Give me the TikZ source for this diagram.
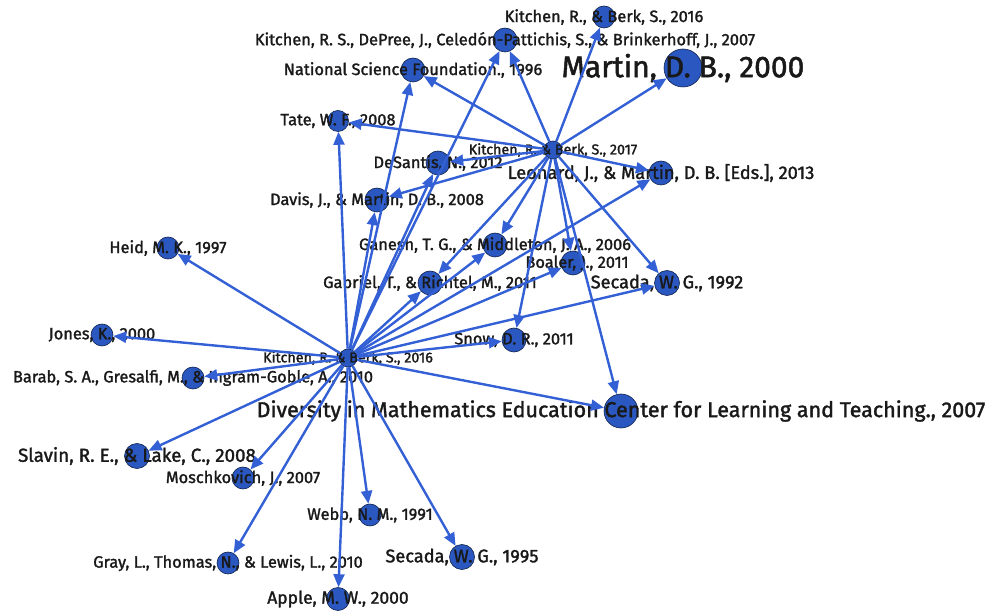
\documentclass[tikz,border=0pt]{standalone}
\usepackage{fontspec}
\setmainfont{Fira Sans}[UprightFeatures={FakeBold=1.6}]
\usepackage{xcolor}
\usepackage{tikz}
\usetikzlibrary{arrows.meta}
\definecolor{nodeblue}{RGB}{42,88,192}
\definecolor{edgeblue}{RGB}{52,96,214}
\tikzset{
  vtx/.style={circle, fill=nodeblue, draw=black!60!nodeblue, line width=0.6pt, inner sep=0pt},
  cite/.style={line width=2.4pt, draw=edgeblue, -{Triangle[length=13pt,width=11pt]}},
  lbl/.style={font=\fontsize{16.4}{17}\selectfont, inner sep=0pt, text=black!90},
  lblsm/.style={font=\fontsize{14.3}{15}\selectfont, inner sep=0pt, text=black!90},
  lblmd/.style={font=\fontsize{18.2}{19}\selectfont, inner sep=0pt, text=black!90},
  lblbig/.style={font=\fontsize{21.5}{22}\selectfont, inner sep=0pt, text=black!90},
  lblhuge/.style={font=\fontsize{30}{31}\selectfont, inner sep=0pt, text=black!90},
}

\begin{document}
\begin{tikzpicture}[x=1pt, y=-1pt]
\useasboundingbox (0,0) rectangle (989,612);
% cited works and the two citing hubs
\node[vtx, minimum size=22pt] (kb16t) at (604,17) {};
\node[vtx, minimum size=24pt] (depree) at (505,40) {};
\node[vtx, minimum size=24pt] (nsf) at (413,70) {};
\node[vtx, minimum size=38pt] (martin) at (683,68) {};
\node[vtx, minimum size=21pt] (tate) at (338,121) {};
\node[vtx, minimum size=24pt] (desantis) at (438,163) {};
\node[vtx, minimum size=24pt] (davis) at (377,200) {};
\node[vtx, minimum size=24pt] (leonard) at (661,173) {};
\node[vtx, minimum size=18pt] (kb17) at (553,150) {};
\node[vtx, minimum size=24pt] (ganesh) at (495,245) {};
\node[vtx, minimum size=24pt] (boaler) at (573,263) {};
\node[vtx, minimum size=24pt] (gabriel) at (430,283) {};
\node[vtx, minimum size=25pt] (secada92) at (667,283) {};
\node[vtx, minimum size=22pt] (heid) at (168,248) {};
\node[vtx, minimum size=22pt] (jones) at (102,335) {};
\node[vtx, minimum size=24pt] (snow) at (514,340) {};
\node[vtx, minimum size=18pt] (kb16) at (348,358) {};
\node[vtx, minimum size=22pt] (barab) at (193,378) {};
\node[vtx, minimum size=34pt] (diversity) at (621,411) {};
\node[vtx, minimum size=25pt] (slavin) at (137,456) {};
\node[vtx, minimum size=22pt] (moschk) at (243,478) {};
\node[vtx, minimum size=22pt] (webb) at (370,515) {};
\node[vtx, minimum size=22pt] (gray) at (228,563) {};
\node[vtx, minimum size=25pt] (secada95) at (462,557) {};
\node[vtx, minimum size=23pt] (apple) at (338,599) {};
% labels
\node[lbl] at (kb16t) {Kitchen, R., \& Berk, S., 2016};
\node[lbl] at (depree) {Kitchen, R. S., DePree, J., Celedón-Pattichis, S., \& Brinkerhoff, J., 2007};
\node[lbl] at (nsf) {National Science Foundation., 1996};
\node[lblhuge] at (martin) {Martin, D. B., 2000};
\node[lbl] at (tate) {Tate, W. F., 2008};
\node[lbl] at (desantis) {DeSantis, N., 2012};
\node[lbl] at (davis) {Davis, J., \& Martin, D. B., 2008};
\node[lblmd] at (leonard) {Leonard, J., \& Martin, D. B. [Eds.], 2013};
\node[lblsm] at (kb17) {Kitchen, R. \& Berk, S., 2017};
\node[lbl] at (ganesh) {Ganesh, T. G., \& Middleton, J. A., 2006};
\node[lbl] at (577,263) {Boaler, J., 2011};
\node[lbl] at (gabriel) {Gabriel, T., \& Richtel, M., 2011};
\node[lblmd] at (secada92) {Secada, W. G., 1992};
\node[lbl] at (heid) {Heid, M. K., 1997};
\node[lbl] at (jones) {Jones, K., 2000};
\node[lbl] at (snow) {Snow, D. R., 2011};
\node[lblsm] at (kb16) {Kitchen, R. \& Berk, S., 2016};
\node[lbl] at (barab) {Barab, S. A., Gresalfi, M., \& Ingram-Goble, A., 2010};
\node[lblbig] at (diversity) {Diversity in Mathematics Education Center for Learning and Teaching., 2007};
\node[font=\fontsize{18.8}{19}\selectfont, inner sep=0pt, text=black!90] at (slavin) {Slavin, R. E., \& Lake, C., 2008};
\node[lbl] at (moschk) {Moschkovich, J., 2007};
\node[lbl] at (webb) {Webb, N. M., 1991};
\node[lbl] at (gray) {Gray, L., Thomas, N., \& Lewis, L., 2010};
\node[lblmd] at (secada95) {Secada, W. G., 1995};
\node[font=\fontsize{17.5}{18}\selectfont, inner sep=0pt, text=black!90] at (apple) {Apple, M. W., 2000};
% citations from Kitchen & Berk 2016
\draw[cite] (kb16) -- (heid);
\draw[cite] (kb16) -- (jones);
\draw[cite] (kb16) -- (barab);
\draw[cite] (kb16) -- (slavin);
\draw[cite] (kb16) -- (moschk);
\draw[cite] (kb16) -- (gray);
\draw[cite] (kb16) -- (apple);
\draw[cite] (kb16) -- (webb);
\draw[cite] (kb16) -- (secada95);
\draw[cite] (kb16) -- (diversity);
\draw[cite] (kb16) -- (snow);
\draw[cite] (kb16) -- (secada92);
\draw[cite] (kb16) -- (leonard);
\draw[cite] (kb16) -- (boaler);
\draw[cite] (kb16) -- (ganesh);
\draw[cite] (kb16) -- (gabriel);
\draw[cite] (kb16) -- (desantis);
\draw[cite] (kb16) -- (depree);
\draw[cite] (kb16) -- (nsf);
\draw[cite] (kb16) -- (tate);
\draw[cite] (kb16) -- (davis);
% citations from Kitchen & Berk 2017
\draw[cite] (kb17) -- (kb16t);
\draw[cite] (kb17) -- (depree);
\draw[cite] (kb17) -- (nsf);
\draw[cite] (kb17) -- (martin);
\draw[cite] (kb17) -- (tate);
\draw[cite] (kb17) -- (desantis);
\draw[cite] (kb17) -- (davis);
\draw[cite] (kb17) -- (leonard);
\draw[cite] (kb17) -- (secada92);
\draw[cite] (kb17) -- (boaler);
\draw[cite] (kb17) -- (ganesh);
\draw[cite] (kb17) -- (gabriel);
\draw[cite] (kb17) -- (snow);
\draw[cite] (kb17) -- (diversity);
\end{tikzpicture}
\end{document}
